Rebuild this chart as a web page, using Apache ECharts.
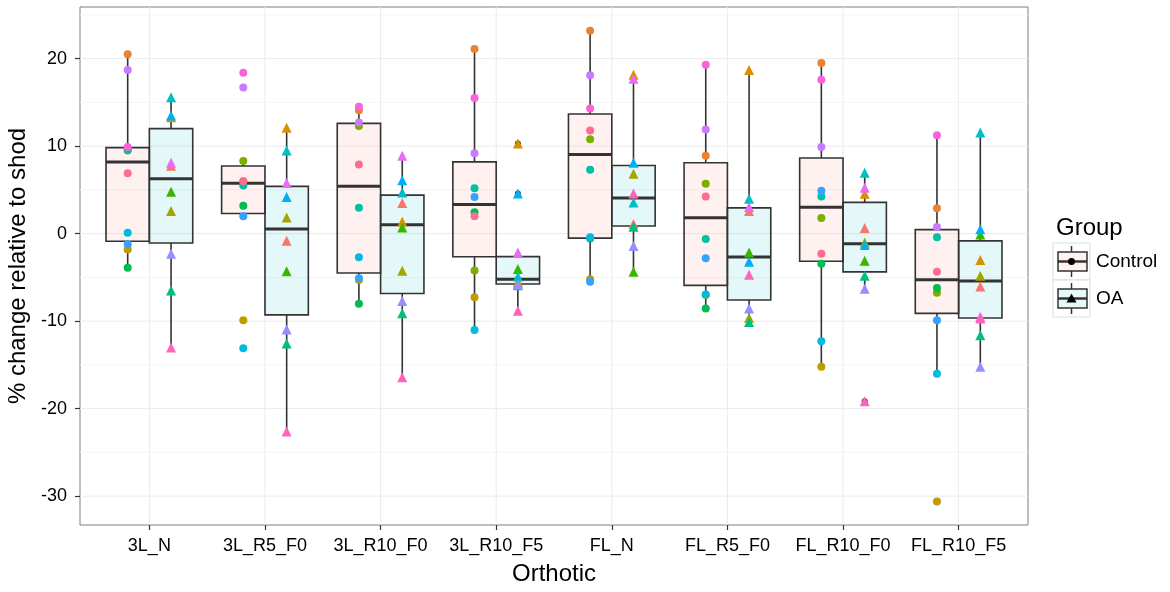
<!DOCTYPE html>
<html>
<head>
<meta charset="utf-8">
<script src="https://cdn.jsdelivr.net/npm/echarts@6/dist/echarts.min.js"></script>
<style>
  html, body { margin: 0; padding: 0; background: #fff; }
  #chart { width: 1170px; height: 592px; }
</style>
</head>
<body>
<div id="chart"></div>
<script>
// x categories
const orthotics = ["3L_N", "3L_R5_F0", "3L_R10_F0", "3L_R10_F5", "FL_N", "FL_R5_F0", "FL_R10_F0", "FL_R10_F5"];
// y axis ticks and grid
const yTicks = [-30, -20, -10, 0, 10, 20];
const yMinorLines = [-25, -15, -5, 5, 15, 25];

// Control subjects (circles), one colour each, values in orthotic order
const controlColors = ["#EA8331", "#C09B00", "#7CAE00", "#00BB4E", "#00C1A3", "#00BAE0", "#35A2FF", "#C77CFF", "#FA62DB", "#FF6C91"];
const controlValues = [
  [20.5, 6.0, 14.1, 21.1, 23.2, 8.9, 19.5, 2.9],
  [-1.8, -9.9, -5.3, -7.26, -5.2, -7.0, -15.2, -30.6],
  [9.5, 8.3, 12.3, -4.2, 10.8, 5.7, 1.8, -6.75],
  [-3.9, 3.2, -8.0, 2.45, -0.55, -8.55, -3.45, -6.2],
  [9.6, 5.5, 2.95, 5.2, 7.3, -0.6, 4.25, -0.4],
  [0.1, -13.1, -2.7, -11.0, -0.4, -6.95, -12.3, -16.0],
  [-1.2, 2.0, -5.1, 4.2, -5.5, -2.8, 4.9, -9.9],
  [18.7, 16.7, 12.7, 9.2, 18.1, 11.9, 9.9, 0.75],
  [9.9, 18.4, 14.5, 15.5, 14.3, 19.3, 17.6, 11.25],
  [6.9, 6.0, 7.9, 2.0, 11.8, 4.25, -2.3, -4.35]
];

// OA subjects (triangles)
const oaColors = ["#F8766D", "#D89000", "#A3A500", "#39B600", "#00BF7D", "#00BFC4", "#00B0F6", "#9590FF", "#E76BF3", "#FF62BC"];
const oaValues = [
  [7.75, -0.8, 3.5, -5.5, 1.1, 2.6, 0.65, -6.05],
  [13.3, 12.1, 1.35, 10.3, 18.15, 18.7, 4.55, -3.0],
  [2.6, 1.85, -4.25, -5.6, 6.85, -9.6, -1.0, -4.8],
  [4.8, -4.3, 0.7, -4.05, -4.35, -2.15, -3.1, -0.1],
  [-6.5, -12.55, -9.1, -5.9, 0.8, -10.1, -4.8, -11.6],
  [15.6, 9.5, 4.7, -4.9, 3.55, 4.0, 6.95, 11.55],
  [13.5, 4.2, 6.1, 4.6, 8.1, -3.2, -1.3, 0.5],
  [-2.3, -10.95, -7.7, -5.8, -1.4, -8.55, -6.3, -15.2],
  [8.1, 5.8, 8.9, -2.15, 17.7, 3.05, 5.25, -9.5],
  [-13.0, -22.6, -16.4, -8.8, 4.6, -4.7, -19.15, -9.7]
];

const DODGE = 0.1875;     // half of the dodge width
const BOX_HALF = 0.1875;  // half box width
const LINE = "#333333";
const FONT = "Liberation Sans, Arial, sans-serif";

function quantile(sorted, p) {
  const h = (sorted.length - 1) * p;
  const lo = Math.floor(h);
  if (lo + 1 >= sorted.length) return sorted[lo];
  return sorted[lo] + (h - lo) * (sorted[lo + 1] - sorted[lo]);
}

// ggplot style box stats: whiskers to furthest point within 1.5 IQR
function boxStats(values, shift) {
  const boxes = [], outliers = [];
  orthotics.forEach(function (name, i) {
    const col = values.map(function (s) { return s[i]; }).sort(function (a, b) { return a - b; });
    const q1 = quantile(col, 0.25), med = quantile(col, 0.5), q3 = quantile(col, 0.75);
    const iqr = q3 - q1;
    const inside = col.filter(function (v) { return v >= q1 - 1.5 * iqr && v <= q3 + 1.5 * iqr; });
    const x = i + shift;
    boxes.push([x, inside[0], q1, med, q3, inside[inside.length - 1]]);
    col.forEach(function (v) {
      if (v < q1 - 1.5 * iqr || v > q3 + 1.5 * iqr) outliers.push([x, v]);
    });
  });
  return { boxes: boxes, outliers: outliers };
}

function pointData(values, colors, shift) {
  const out = [];
  values.forEach(function (s, k) {
    s.forEach(function (v, i) {
      out.push({ value: [i + shift, v], itemStyle: { color: colors[k] } });
    });
  });
  return out;
}

function makeBoxRenderer(fill) {
  return function (params, api) {
    const x = api.value(0);
    const left = api.coord([x - BOX_HALF, 0])[0];
    const right = api.coord([x + BOX_HALF, 0])[0];
    const mid = api.coord([x, 0])[0];
    const yLow = api.coord([x, api.value(1)])[1];
    const yQ1 = api.coord([x, api.value(2)])[1];
    const yMed = api.coord([x, api.value(3)])[1];
    const yQ3 = api.coord([x, api.value(4)])[1];
    const yHigh = api.coord([x, api.value(5)])[1];
    return {
      type: "group",
      children: [
        { type: "line", shape: { x1: mid, y1: yQ3, x2: mid, y2: yHigh }, style: { stroke: LINE, lineWidth: 1.6 } },
        { type: "line", shape: { x1: mid, y1: yQ1, x2: mid, y2: yLow }, style: { stroke: LINE, lineWidth: 1.6 } },
        { type: "rect", shape: { x: left, y: yQ3, width: right - left, height: yQ1 - yQ3 }, style: { fill: fill, stroke: LINE, lineWidth: 1.6 } },
        { type: "line", shape: { x1: left, y1: yMed, x2: right, y2: yMed }, style: { stroke: LINE, lineWidth: 3 } }
      ]
    };
  };
}

// background grid lines: kind 0 = vertical at category, 1 = major y, 2 = minor y
const gridItems = []
  .concat(orthotics.map(function (n, i) { return [0, i]; }))
  .concat(yTicks.map(function (v) { return [1, v]; }))
  .concat(yMinorLines.map(function (v) { return [2, v]; }));

function renderGridLine(params, api) {
  const cs = params.coordSys;
  const kind = api.value(0), v = api.value(1);
  if (kind === 0) {
    const x = api.coord([v, 0])[0];
    return { type: "line", shape: { x1: x, y1: cs.y, x2: x, y2: cs.y + cs.height }, style: { stroke: "#EBEBEB", lineWidth: 1 } };
  }
  const y = api.coord([0, v])[1];
  return {
    type: "line",
    shape: { x1: cs.x, y1: y, x2: cs.x + cs.width, y2: y },
    style: { stroke: kind === 1 ? "#EBEBEB" : "#F4F4F4", lineWidth: 1 }
  };
}

const control = boxStats(controlValues, -DODGE);
const oa = boxStats(oaValues, DODGE);

// legend drawn as ggplot-style keys
function legendKey(top, shape) {
  const cx = 1071.5, cy = top + 18.5;
  const marker = shape === "circle"
    ? { type: "circle", shape: { cx: cx, cy: cy, r: 3.5 }, style: { fill: "#000" } }
    : { type: "polygon", shape: { points: [[cx, cy - 5], [cx + 5, cy + 4], [cx - 5, cy + 4]] }, style: { fill: "#000" } };
  return [
    { type: "rect", shape: { x: 1053, y: top, width: 37, height: 37 }, style: { fill: "#fff", stroke: "#DDDDDD", lineWidth: 1 } },
    { type: "line", shape: { x1: cx, y1: top + 3, x2: cx, y2: top + 34 }, style: { stroke: LINE, lineWidth: 1.5 } },
    { type: "rect", shape: { x: 1058, y: top + 9, width: 29, height: 19 }, style: { fill: shape === "circle" ? "#FEF1F0" : "#E6F8F8", stroke: LINE, lineWidth: 1.5 } },
    { type: "line", shape: { x1: 1058, y1: cy, x2: 1087, y2: cy }, style: { stroke: LINE, lineWidth: 2.5 } },
    marker
  ];
}

const chart = echarts.init(document.getElementById("chart"));
chart.setOption({
  animation: false,
  backgroundColor: "#fff",
  textStyle: { fontFamily: FONT },
  grid: {
    left: 80, right: 142, top: 7, bottom: 67,
    outerBoundsMode: "none",
    show: true, backgroundColor: "#fff", borderColor: "#7F7F7F", borderWidth: 1
  },
  xAxis: {
    type: "value",
    min: -0.6, max: 7.6,
    name: "Orthotic",
    nameLocation: "middle",
    nameGap: 37,
    nameTextStyle: { color: "#000", fontSize: 24, fontFamily: FONT },
    axisLine: { show: false, onZero: false },
    axisTick: { show: true, length: 5, customValues: orthotics.map(function (n, i) { return i; }), lineStyle: { color: LINE, width: 1.2 } },
    axisLabel: {
      customValues: orthotics.map(function (n, i) { return i; }),
      formatter: function (v) { return orthotics[Math.round(v)]; },
      color: "#000", fontSize: 18, margin: 12, fontFamily: FONT
    },
    splitLine: { show: false }
  },
  yAxis: {
    type: "value",
    min: -33.3, max: 25.9,
    name: "% change relative to shod",
    nameLocation: "middle",
    nameGap: 47,
    nameTextStyle: { color: "#000", fontSize: 24, fontFamily: FONT },
    axisLine: { show: false, onZero: false },
    axisTick: { show: true, length: 5, customValues: yTicks, lineStyle: { color: LINE, width: 1.2 } },
    axisLabel: { customValues: yTicks, color: "#000", fontSize: 18, margin: 13, fontFamily: FONT },
    splitLine: { show: false }
  },
  graphic: [
    { type: "text", left: 1056, top: 216, style: { text: "Group", fill: "#000", font: "24px " + FONT } },
    { type: "text", left: 1096, top: 252, style: { text: "Control", fill: "#000", font: "19px " + FONT } },
    { type: "text", left: 1096, top: 289, style: { text: "OA", fill: "#000", font: "19px " + FONT } },
    { type: "group", children: legendKey(243, "circle").concat(legendKey(280, "triangle")) }
  ],
  series: [
    { type: "custom", name: "grid", z: 1, silent: true, renderItem: renderGridLine, data: gridItems },
    { type: "custom", name: "Control", z: 2, renderItem: makeBoxRenderer("rgba(248,118,109,0.1)"), encode: { x: 0, y: [1, 2, 3, 4, 5] }, data: control.boxes },
    { type: "custom", name: "OA", z: 2, renderItem: makeBoxRenderer("rgba(0,191,196,0.1)"), encode: { x: 0, y: [1, 2, 3, 4, 5] }, data: oa.boxes },
    { type: "scatter", z: 3, symbol: "circle", symbolSize: 6, itemStyle: { color: LINE, opacity: 1 }, data: control.outliers.concat(oa.outliers) },
    { type: "scatter", name: "Control points", z: 4, symbol: "circle", symbolSize: 8, itemStyle: { opacity: 1 }, data: pointData(controlValues, controlColors, -DODGE) },
    { type: "scatter", name: "OA points", z: 4, symbol: "triangle", symbolSize: 10, itemStyle: { opacity: 1 }, data: pointData(oaValues, oaColors, DODGE) }
  ]
});
</script>
</body>
</html>
